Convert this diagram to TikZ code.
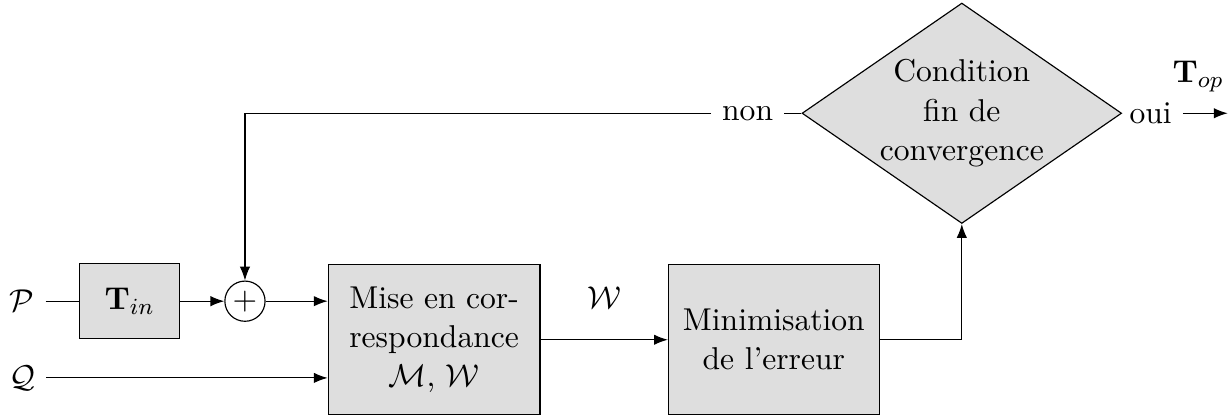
\documentclass[tikz,border=0pt,11pt]{standalone}
\usepackage{amsmath,amssymb}
\usetikzlibrary{arrows.meta,shapes.geometric,positioning}
\tikzset {
  >=Latex,
  bloc/.style={draw,fill=black!13,align=center},
  somme/.style={draw,circle,inner sep=0pt,minimum size=4.9mm},
  test/.style={draw,fill=black!13,diamond,align=center,aspect=1.45,inner sep=0pt,
    minimum width=3.8cm,minimum height=2.6cm},
}

\begin{document}
\begin{tikzpicture}
  \useasboundingbox (0,0) rectangle (15,5.08);
  \node (P) at (0.27,1.41) {$\mathcal{P}$};
  \node (Q) at (0.27,0.475) {$\mathcal{Q}$};
  \node[bloc,minimum width=1.22cm,minimum height=0.91cm] (Tin) at (1.58,1.41) {$\mathbf{T}_{in}$};
  \node[somme] (som) at (2.985,1.41) {$+$};
  \node[bloc,minimum width=2.58cm,minimum height=1.83cm] (mise) at (5.29,0.94)
    {Mise en cor-\\respondance\\$\mathcal{M}$, $\mathcal{W}$};
  \node[bloc,minimum width=2.57cm,minimum height=1.83cm] (mini) at (9.43,0.94)
    {Minimisation\\de l'erreur};
  \node[test] (cond) at (11.72,3.70) {Condition\\fin de\\convergence};
  \node (non) at (9.11,3.70) {non};
  \node (oui) at (14.02,3.70) {oui};
  \node (Top) at (14.6,4.15) {$\mathbf{T}_{op}$};
  \coordinate (fin) at (14.96,3.70);
  % chaine directe
  \draw (P) -- (Tin);
  \draw[->] (Tin) -- (som);
  \draw[->] (som) -- (som -| mise.west);
  \draw[->] (Q) -- (Q -| mise.west);
  \draw[->] (mise) -- node[above=2.5mm] (W) {$\mathcal{W}$} (mini);
  \draw[->] (mini.east) -| (cond.south);
  % retour
  \draw (cond) -- (non);
  \draw[->] (non) -| (som);
  \draw[->] (oui) -- (fin);
\end{tikzpicture}
\end{document}
